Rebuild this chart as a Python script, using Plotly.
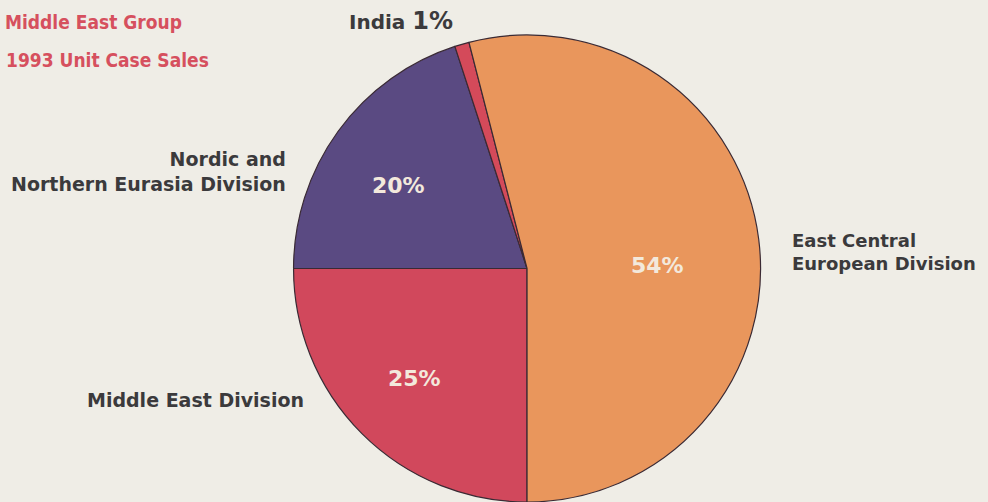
import plotly.graph_objects as go

# Data
divisions = ["Middle East Division", "Nordic and Northern Eurasia Division", "India", "East Central European Division"]
shares = [25, 20, 1, 54]
colors = ["#d1485c", "#5a4a82", "#d44a5a", "#e9965c"]

label_text = ["Middle East Division", "Nordic and<br>Northern Eurasia Division", "India", "East Central<br>European Division"]
title_lines = ["Middle East Group", "1993 Unit Case Sales"]

FONT = "'DejaVu Sans', Verdana, sans-serif"
TFONT = "'DejaVu Sans Condensed', 'DejaVu Sans', sans-serif"
W, H = 988, 502

def px(x):
    return x / W

def py(y):
    return 1 - y / H

fig = go.Figure(go.Pie(
    labels=divisions,
    values=shares,
    sort=False,
    direction="clockwise",
    rotation=180,
    marker=dict(colors=colors, line=dict(color="#3a2a34", width=1.2)),
    textinfo="none",
    hoverinfo="label+percent",
    showlegend=False,
    domain=dict(x=[0.2971, 0.7698], y=[0.0, 0.9303]),
))

ann = []
# inside percentages
inside_pos = {0: (414, 378), 1: (398, 185), 3: (657, 265)}
for i, (x, y) in inside_pos.items():
    ann.append(dict(x=px(x), y=py(y), xref="paper", yref="paper", yanchor="middle",
                    text=f"<b>{shares[i]}%</b>",
                    showarrow=False, font=dict(family=FONT, size=22, color="#f3e9dc")))

# outside labels
ann.append(dict(x=px(288), y=py(172), xref="paper", yref="paper", text=f"<b>{label_text[1]}</b>",
                showarrow=False, xanchor="right", yanchor="middle", align="right",
                font=dict(family=FONT, size=19, color="#3b3a3c")))
ann.append(dict(x=px(790), y=py(252), xref="paper", yref="paper", text=f"<b>{label_text[3]}</b>",
                showarrow=False, xanchor="left", yanchor="middle", align="left",
                font=dict(family=FONT, size=18, color="#3b3a3c")))
ann.append(dict(x=px(306), y=py(400), xref="paper", yref="paper", text=f"<b>{label_text[0]}</b>",
                showarrow=False, xanchor="right", yanchor="middle", align="right",
                font=dict(family=FONT, size=19, color="#3b3a3c")))
ann.append(dict(x=px(455), y=py(21), xref="paper", yref="paper", yanchor="middle",
                text=f"<b>{label_text[2]} <span style='font-size:24px'>{shares[2]}%</span></b>",
                showarrow=False, xanchor="right",
                font=dict(family=FONT, size=20, color="#3b3a3c")))

# title
ann.append(dict(x=px(184), y=py(22), xref="paper", yref="paper", yanchor="middle",
                text=f"<b>{title_lines[0]}</b>",
                showarrow=False, xanchor="right",
                font=dict(family=TFONT, size=19, color="#d6505e")))
ann.append(dict(x=px(211), y=py(60), xref="paper", yref="paper", yanchor="middle",
                text=f"<b>{title_lines[1]}</b>",
                showarrow=False, xanchor="right",
                font=dict(family=TFONT, size=19, color="#d6505e")))

fig.update_layout(
    width=W, height=H,
    margin=dict(l=0, r=0, t=0, b=0),
    paper_bgcolor="#efede6",
    plot_bgcolor="#efede6",
    annotations=ann,
)

fig.write_html("out.html", config={"displayModeBar": False},
               post_script="document.body.style.margin='0';document.body.style.overflow='hidden';")
